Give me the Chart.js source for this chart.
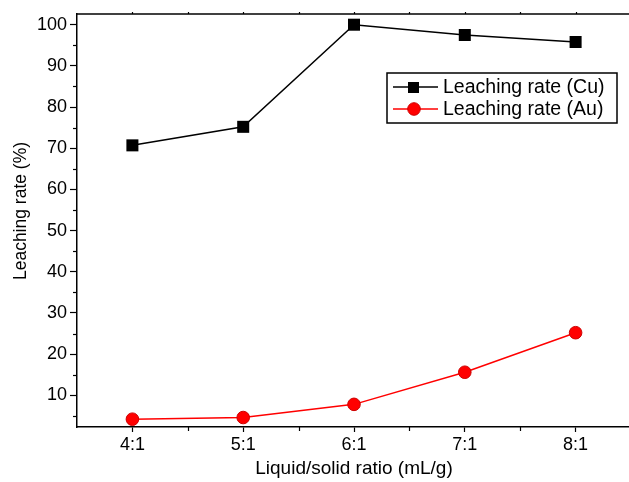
<!DOCTYPE html>
<html><head><meta charset="utf-8">
<script src="https://cdn.jsdelivr.net/npm/chart.js@4/dist/chart.umd.min.js"></script>
<style>
html,body{margin:0;padding:0;overflow:hidden;background:#fff;width:629px;height:482px}
#wrap{position:absolute;left:0;top:0;width:640px;height:482px}
</style></head>
<body><div id="wrap"><canvas id="c" width="640" height="482"></canvas></div>
<script>
const ratios = [4, 5, 6, 7, 8];
const categoryLabels = ['4:1', '5:1', '6:1', '7:1', '8:1'];
const cuRate = [70.7, 75.2, 100.0, 97.5, 95.8];
const auRate = [4.2, 4.6, 7.8, 15.6, 25.2];
const yTicks = [10, 20, 30, 40, 50, 60, 70, 80, 90, 100];
const yMinorTicks = [5, 15, 25, 35, 45, 55, 65, 75, 85, 95];
const xMinorTicks = [4.5, 5.5, 6.5, 7.5];
const seriesNames = ['Leaching rate (Cu)', 'Leaching rate (Au)'];
const xTitle = 'Liquid/solid ratio (mL/g)';
const yTitle = 'Leaching rate (%)';

const FONT = 'Liberation Sans, Arial, Helvetica, sans-serif';

const extras = {
  id: 'extras',
  afterDraw(chart) {
    const ctx = chart.ctx;
    const {left, right, top, bottom} = chart.chartArea;
    const xs = chart.scales.x, ys = chart.scales.y;
    ctx.save();
    ctx.strokeStyle = '#000';
    ctx.lineWidth = 1.5;
    ctx.beginPath();
    ctx.moveTo(left, top); ctx.lineTo(right + 2, top);
    ctx.stroke();
    ctx.lineWidth = 1.2;
    yMinorTicks.forEach(v => {
      const y = Math.round(ys.getPixelForValue(v)) + 0.5;
      ctx.beginPath(); ctx.moveTo(left - 4, y); ctx.lineTo(left, y); ctx.stroke();
    });
    xMinorTicks.forEach(v => {
      const x = Math.round(xs.getPixelForValue(v)) + 0.5;
      ctx.beginPath(); ctx.moveTo(x, bottom); ctx.lineTo(x, bottom + 4); ctx.stroke();
    });
    ratios.concat(xMinorTicks).forEach(v => {
      const x = Math.round(xs.getPixelForValue(v)) + 0.5;
      ctx.beginPath(); ctx.moveTo(x, top); ctx.lineTo(x, top - 2); ctx.stroke();
    });
    ctx.fillStyle = '#000';
    ctx.font = '17.5px ' + FONT;
    ctx.textAlign = 'center';
    ctx.textBaseline = 'middle';
    ctx.translate(21, 211);
    ctx.rotate(-Math.PI / 2);
    ctx.fillText(yTitle, 0, 0);
    ctx.restore();

    ctx.save();
    ctx.strokeStyle = '#000';
    ctx.lineWidth = 1.5;
    ctx.strokeRect(387, 73, 230, 50);
    const rows = [87, 109];
    chart.data.datasets.forEach((ds, i) => {
      const y = rows[i];
      ctx.strokeStyle = ds.borderColor;
      ctx.lineWidth = 1.5;
      ctx.beginPath(); ctx.moveTo(393, y); ctx.lineTo(438, y); ctx.stroke();
      ctx.fillStyle = ds.pointBackgroundColor;
      ctx.strokeStyle = ds.pointBorderColor;
      ctx.lineWidth = 1;
      if (ds.pointStyle === 'rect') {
        ctx.fillRect(408, y - 5, 11, 11);
      } else {
        ctx.beginPath(); ctx.arc(414, y, 6.3, 0, Math.PI * 2); ctx.fill(); ctx.stroke();
      }
      ctx.fillStyle = '#000';
      ctx.font = '19.5px ' + FONT;
      ctx.textAlign = 'left';
      ctx.textBaseline = 'middle';
      ctx.fillText(ds.label, 443, y + 1);
    });
    ctx.restore();
  }
};

new Chart(document.getElementById('c'), {
  type: 'line',
  data: {
    datasets: [
      {
        label: seriesNames[0],
        data: ratios.map((r, i) => ({x: r, y: cuRate[i]})),
        borderColor: '#000',
        borderWidth: 1.5,
        pointStyle: 'rect',
        pointRadius: 8.5,
        pointBackgroundColor: '#000',
        pointBorderColor: '#000',
        pointBorderWidth: 0,
        tension: 0
      },
      {
        label: seriesNames[1],
        data: ratios.map((r, i) => ({x: r, y: auRate[i]})),
        borderColor: '#ff0000',
        borderWidth: 1.5,
        pointStyle: 'circle',
        pointRadius: 6.3,
        pointBackgroundColor: '#ff0000',
        pointBorderColor: '#cc0000',
        pointBorderWidth: 1,
        tension: 0
      }
    ]
  },
  options: {
    responsive: false,
    animation: false,
    devicePixelRatio: 1,
    clip: false,
    layout: {padding: {left: 0, right: 9, top: 14, bottom: 0}},
    plugins: {legend: {display: false}, tooltip: {enabled: false}},
    scales: {
      x: {
        type: 'linear',
        min: 3.5, max: 8.5,
        afterBuildTicks: s => { s.ticks = ratios.map(v => ({value: v})); },
        afterFit: s => { s.height = 55; },
        ticks: {
          callback: v => categoryLabels[ratios.indexOf(v)],
          color: '#000',
          font: {family: FONT, size: 18},
          padding: 2,
          maxRotation: 0
        },
        grid: {drawOnChartArea: false, drawTicks: true, tickLength: 5, color: '#000', tickWidth: 1.2},
        border: {color: '#000', width: 1.5},
        title: {display: true, text: xTitle, color: '#000', font: {family: FONT, size: 19}, padding: {top: 0, bottom: 2}}
      },
      y: {
        type: 'linear',
        min: 2.3, max: 102.6,
        afterBuildTicks: s => { s.ticks = yTicks.map(v => ({value: v})); },
        afterFit: s => { s.width = 77; },
        ticks: {
          color: '#000',
          font: {family: FONT, size: 18},
          padding: 3
        },
        grid: {drawOnChartArea: false, drawTicks: true, tickLength: 7, color: '#000', tickWidth: 1.2},
        border: {color: '#000', width: 1.5}
      }
    }
  },
  plugins: [extras]
});
</script>
</body></html>
